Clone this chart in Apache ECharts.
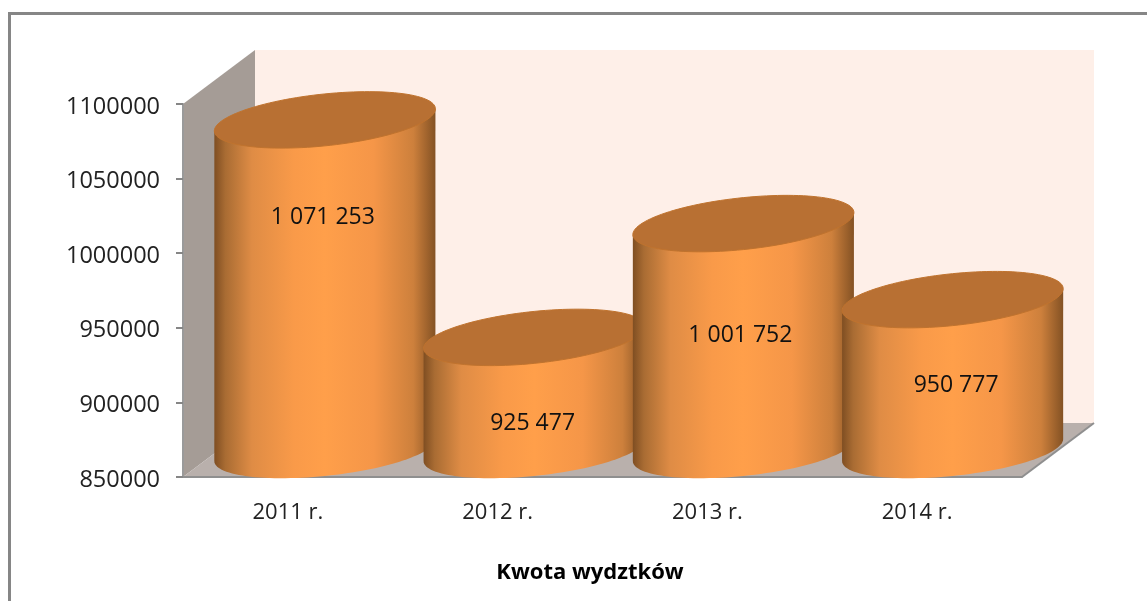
<!DOCTYPE html>
<html>
<head>
    <meta charset="utf-8">
    <script src="https://cdn.jsdelivr.net/npm/echarts@6/dist/echarts.min.js"></script>
    <style>
        html, body { margin: 0; padding: 0; background: #fff; }
        #chart { width: 1147px; height: 601px; }
    </style>
</head>

<body>
    <div id="chart"></div>
    <script type="text/javascript">
        var categories = ['2011 r.', '2012 r.', '2013 r.', '2014 r.'];
        var expenses = [1071253, 925477, 1001752, 950777];
        var expenseLabels = ['1 071 253', '925 477', '1 001 752', '950 777'];
        var chartTitle = 'Kwota wydztków';

        var axisMin = 850000;
        var axisMax = 1100000;
        var axisStep = 50000;

        // 3D look: depth of the box, and labels were dragged by hand in the original
        var depthX = 72;
        var depthY = 54;
        var labelShift = [[-1, 71], [-1, 59], [-3, 85], [3, 59]];
        var font = '"Open Sans", sans-serif';

        var bodyColor = {
            type: 'linear', x: 0, y: 0, x2: 1, y2: 0,
            colorStops: [
                { offset: 0, color: '#7f4e22' },
                { offset: 0.05, color: '#a96c33' },
                { offset: 0.17, color: '#df8c45' },
                { offset: 0.36, color: '#f99a49' },
                { offset: 0.5, color: '#ff9f4a' },
                { offset: 0.72, color: '#f59648' },
                { offset: 0.9, color: '#cd803c' },
                { offset: 1, color: '#845224' }
            ]
        };

        function ringPoint(cx, cy, a, t) {
            // sheared ellipse, right side sits higher than the left
            return [cx + a * Math.cos(t), cy - a * 0.1 * Math.cos(t) + a * 0.235 * Math.sin(t)];
        }

        function renderWalls(params, api) {
            var p0 = api.coord([0, axisMin]);
            var p1 = api.coord([0, axisMax]);
            var band = api.size([1, 0])[0];
            var left = p0[0] - band / 2;
            var right = left + band * categories.length;
            var bottom = p0[1];
            var top = p1[1];
            return {
                type: 'group',
                children: [
                    {
                        type: 'rect',
                        shape: { x: left + depthX, y: top - depthY, width: right - left, height: bottom - top },
                        style: { fill: '#feefe8' }
                    },
                    {
                        type: 'polygon',
                        shape: { points: [[left, top], [left + depthX, top - depthY], [left + depthX, bottom - depthY], [left, bottom]] },
                        style: { fill: '#a59c96' }
                    },
                    {
                        type: 'polygon',
                        shape: { points: [[left, bottom], [left + depthX, bottom - depthY], [right + depthX, bottom - depthY], [right, bottom]] },
                        style: { fill: '#b9b0ac' }
                    },
                    {
                        type: 'line',
                        shape: { x1: right, y1: bottom, x2: right + depthX, y2: bottom - depthY },
                        style: { stroke: '#8f8f8f', lineWidth: 2 }
                    }
                ]
            };
        }

        function renderCylinder(params, api) {
            var i = api.value(0);
            var topPt = api.coord([i, api.value(1)]);
            var basePt = api.coord([i, axisMin]);
            var band = api.size([1, 0])[0];
            var a = band * 0.527;
            var cx = topPt[0] + depthX / 2 + 1 - i * 0.5;
            var topY = topPt[1] - depthY / 2;
            var baseY = basePt[1] - depthY / 2;

            var body = [];
            var lid = [];
            var n = 60;
            for (var k = 0; k <= n; k++) {
                // bottom half, left to right
                body.push(ringPoint(cx, baseY, a, Math.PI - Math.PI * k / n));
            }
            body.push(ringPoint(cx, topY, a, 0));
            body.push(ringPoint(cx, topY, a, Math.PI));
            for (var j = 0; j < n * 2; j++) {
                lid.push(ringPoint(cx, topY, a, Math.PI * j / n));
            }

            return {
                type: 'group',
                children: [
                    {
                        type: 'polygon',
                        shape: { points: body },
                        style: { fill: bodyColor }
                    },
                    {
                        type: 'polygon',
                        shape: { points: lid },
                        style: { fill: '#b87033', stroke: '#c0732e', lineWidth: 1 }
                    },
                    {
                        type: 'text',
                        style: {
                            x: topPt[0] + depthX / 2 + labelShift[i][0],
                            y: topPt[1] + labelShift[i][1],
                            text: expenseLabels[i],
                            fill: '#111',
                            font: '23px ' + font,
                            align: 'center',
                            verticalAlign: 'middle'
                        }
                    }
                ]
            };
        }

        var option = {
            animation: false,
            backgroundColor: '#fff',
            title: {
                text: chartTitle,
                left: 585,
                top: 557,
                textAlign: 'center',
                textStyle: { fontFamily: font, fontSize: 22, fontWeight: 'bold', color: '#000' }
            },
            grid: { left: 183, right: 125, top: 104, bottom: 124 },
            xAxis: {
                type: 'category',
                data: categories,
                z: 2,
                axisLine: { lineStyle: { color: '#8f8f8f', width: 2 } },
                axisTick: { show: false },
                axisLabel: { fontFamily: font, fontSize: 22, color: '#222', margin: 25 }
            },
            yAxis: {
                type: 'value',
                min: axisMin,
                max: axisMax,
                interval: axisStep,
                z: 2,
                splitLine: { show: false },
                axisLine: { show: true, lineStyle: { color: '#9a9a9a', width: 2 } },
                axisTick: { show: true, length: 7, lineStyle: { color: '#868686', width: 2 } },
                axisLabel: {
                    fontFamily: font,
                    fontSize: 23.5,
                    color: '#222',
                    margin: 23,
                    verticalAlign: 'top',
                    lineHeight: 6,
                    formatter: function (v) { return String(v); }
                }
            },
            graphic: [{
                type: 'polyline',
                shape: { points: [[9.5, 601], [9.5, 13.5], [1147, 13.5]] },
                style: { fill: 'none', stroke: '#868686', lineWidth: 3 }
            }],
            series: [
                {
                    type: 'custom',
                    z: 1,
                    silent: true,
                    renderItem: renderWalls,
                    data: [[0, axisMin]]
                },
                {
                    type: 'custom',
                    z: 3,
                    renderItem: renderCylinder,
                    encode: { x: 0, y: 1 },
                    data: expenses.map(function (v, i) { return [i, v]; })
                }
            ]
        };

        var myChart = echarts.init(document.getElementById('chart'));
        myChart.setOption(option);
    </script>
</body>

</html>
